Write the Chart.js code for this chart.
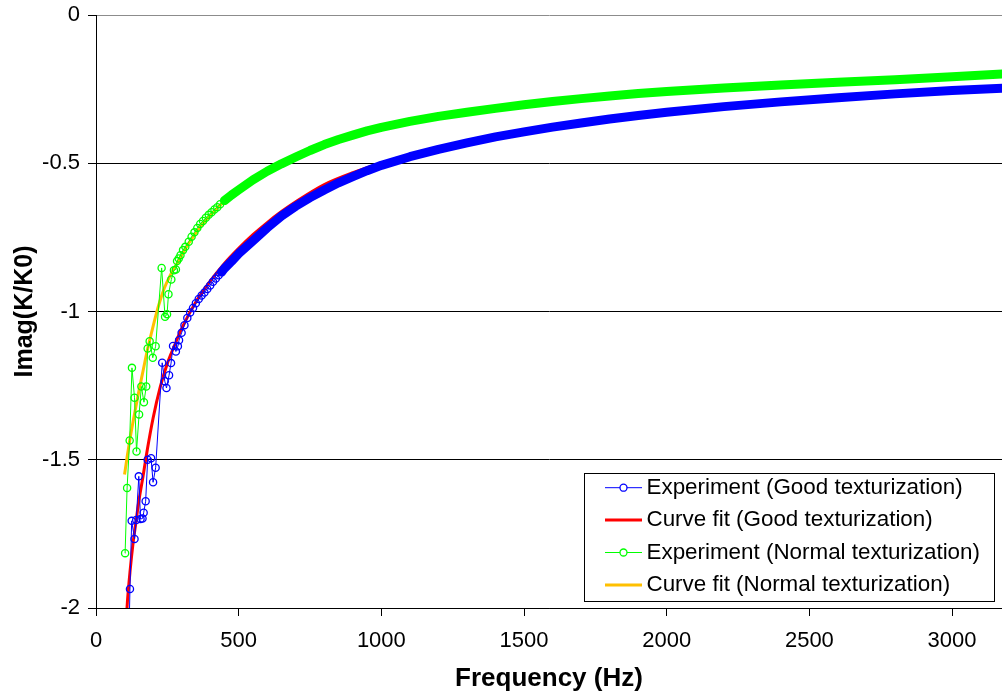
<!DOCTYPE html>
<html>
<head>
<meta charset="utf-8">
<title>Imag(K/K0) vs frequency</title>
<script src="https://cdn.jsdelivr.net/npm/chart.js@4.4.1/dist/chart.umd.min.js"></script>
<style>
  html, body { margin: 0; padding: 0; background: #fff; }
  #wrap { width: 1002px; height: 696px; }
</style>
</head>
<body>
<div id="wrap"><canvas id="imagChart" width="1002" height="696"></canvas></div>
<script>
// measured data, good texturization
const freqGood = [112, 119, 125, 135, 141, 150, 156, 163, 167, 174,
  181, 193, 200, 209, 232, 241, 247, 256, 263, 270,
  280, 287, 291, 300, 310, 320, 330, 340, 350, 360,
  370, 380, 390, 400, 410, 420, 430, 440, 450, 475,
  500, 550, 600, 650, 700, 750, 800, 850, 900, 950,
  1000, 1100, 1200, 1300, 1400, 1500, 1600, 1700, 1800, 1900,
  2000, 2200, 2400, 2600, 2800, 3000, 3200];
const imagGood = [-2.25, -1.936, -1.706, -1.767, -1.703, -1.556, -1.700, -1.698, -1.679, -1.640,
  -1.500, -1.495, -1.576, -1.527, -1.173, -1.235, -1.258, -1.215, -1.174, -1.116,
  -1.135, -1.117, -1.097, -1.072, -1.046, -1.022, -1.003, -0.988, -0.972, -0.958,
  -0.946, -0.936, -0.924, -0.912, -0.900, -0.889, -0.878, -0.867, -0.855, -0.831,
  -0.805, -0.762, -0.718, -0.678, -0.645, -0.616, -0.590, -0.566, -0.545, -0.525,
  -0.507, -0.478, -0.453, -0.431, -0.411, -0.394, -0.378, -0.364, -0.351, -0.339,
  -0.328, -0.309, -0.293, -0.279, -0.266, -0.255, -0.246];

// fitted curve, good texturization
const fitFreqGood = [105, 110, 120, 130, 140, 150, 165, 180, 200, 225,
  250, 275, 300, 350, 400, 450, 500, 550, 600, 650,
  700, 800, 900, 1000, 1200, 1500, 2000, 2500, 3200];
const fitGood = [-2.06, -1.98, -1.87, -1.78, -1.71, -1.64, -1.555, -1.465, -1.36, -1.255,
  -1.175, -1.115, -1.058, -0.968, -0.898, -0.838, -0.787, -0.741, -0.700, -0.663,
  -0.630, -0.572, -0.532, -0.500, -0.451, -0.394, -0.328, -0.287, -0.246];

// measured data, normal texturization
const freqNormal = [102, 109, 118, 126, 135, 142, 151, 159, 168, 176,
  181, 188, 199, 209, 230, 242, 249, 254, 264, 273,
  280, 284, 290, 296, 305, 313, 325, 335, 345, 355,
  365, 375, 385, 395, 405, 415, 425, 435, 450, 475,
  500, 550, 600, 650, 700, 750, 800, 850, 900, 950,
  1000, 1100, 1200, 1300, 1400, 1500, 1600, 1700, 1800, 1900,
  2000, 2200, 2400, 2600, 2800, 3000, 3200];
const imagNormal = [-1.815, -1.595, -1.435, -1.190, -1.291, -1.472, -1.347, -1.253, -1.306, -1.253,
  -1.125, -1.100, -1.156, -1.117, -0.853, -1.018, -1.009, -0.942, -0.892, -0.861,
  -0.858, -0.830, -0.821, -0.810, -0.793, -0.782, -0.765, -0.748, -0.733, -0.718,
  -0.705, -0.695, -0.684, -0.674, -0.665, -0.656, -0.648, -0.638, -0.626, -0.607,
  -0.590, -0.556, -0.527, -0.502, -0.479, -0.457, -0.437, -0.420, -0.405, -0.391,
  -0.379, -0.359, -0.342, -0.328, -0.315, -0.303, -0.292, -0.282, -0.273, -0.265,
  -0.258, -0.246, -0.236, -0.227, -0.218, -0.208, -0.198];

// fitted curve, normal texturization
const fitFreqNormal = [100, 110, 120, 135, 150, 165, 180, 195, 210, 225,
  240, 260, 280, 300, 325, 350, 375, 400, 450, 500,
  600, 700, 800, 1000, 1300, 1800, 2400, 3200];
const fitNormal = [-1.55, -1.485, -1.425, -1.345, -1.27, -1.2, -1.13, -1.07, -1.012, -0.962,
  -0.92, -0.878, -0.845, -0.81, -0.77, -0.735, -0.703, -0.676, -0.628, -0.59,
  -0.527, -0.479, -0.437, -0.379, -0.328, -0.273, -0.236, -0.198];

const yTicks = [0, -0.5, -1, -1.5, -2];
const xTicks = [0, 500, 1000, 1500, 2000, 2500, 3000];

// above this frequency the measured markers merge into a solid band
const bandFrom = 440;

function toPoints(xs, ys) {
    return xs.map((x, i) => ({ x: x, y: ys[i] }));
}

Chart.defaults.font.family = "'Liberation Sans', Arial, sans-serif";
Chart.defaults.color = '#000';

function measuredSet(label, xs, ys, color) {
    return {
        label: label,
        data: toPoints(xs, ys),
        borderColor: color,
        backgroundColor: 'rgba(0,0,0,0)',
        borderWidth: 1,
        borderJoinStyle: 'round',
        borderCapStyle: 'round',
        tension: 0,
        pointRadius: ctx => (ctx.raw && ctx.raw.x > bandFrom ? 0 : 3.6),
        pointBorderWidth: 1.3,
        pointBorderColor: color,
        pointBackgroundColor: 'rgba(0,0,0,0)',
        segment: {
            borderWidth: ctx => (ctx.p0.parsed.x >= bandFrom ? 9 : undefined)
        },
        withMarker: true
    };
}

function fitSet(label, xs, ys, color) {
    return {
        label: label,
        data: toPoints(xs, ys),
        borderColor: color,
        backgroundColor: color,
        borderWidth: 3,
        pointRadius: 0,
        cubicInterpolationMode: 'monotone',
        withMarker: false
    };
}

// drop the label overhang padding so the plot box keeps fixed edges
function noOverhang(scale) {
    scale.paddingTop = 0;
    scale.paddingBottom = 0;
    scale.paddingLeft = 0;
    scale.paddingRight = 0;
}

// legend box sitting inside the plot, lower right
const boxLegend = {
    id: 'boxLegend',
    afterDraw(chart) {
        const ctx = chart.ctx;
        const left = 584.5, top = 473.5, right = 994.5, bottom = 601.5;
        const rowTop = 487.7, rowStep = 32.4;
        ctx.save();
        ctx.fillStyle = '#fff';
        ctx.fillRect(left, top, right - left, bottom - top);
        ctx.strokeStyle = '#000';
        ctx.lineWidth = 1;
        ctx.strokeRect(left, top, right - left, bottom - top);
        ctx.font = "22.4px 'Liberation Sans', Arial, sans-serif";
        ctx.textBaseline = 'middle';
        ctx.textAlign = 'left';
        chart.data.datasets.forEach((ds, i) => {
            const y = rowTop + i * rowStep;
            ctx.strokeStyle = ds.borderColor;
            ctx.lineWidth = ds.withMarker ? 1 : 3;
            ctx.beginPath();
            ctx.moveTo(605, y);
            ctx.lineTo(642, y);
            ctx.stroke();
            if (ds.withMarker) {
                ctx.fillStyle = '#fff';
                ctx.lineWidth = 1.3;
                ctx.beginPath();
                ctx.arc(623.5, y, 3.5, 0, Math.PI * 2);
                ctx.fill();
                ctx.stroke();
            }
            ctx.fillStyle = '#000';
            ctx.fillText(ds.label, 646.5, y);
        });
        ctx.restore();
    }
};

const canvas = document.getElementById('imagChart');
new Chart(canvas.getContext('2d'), {
    type: 'line',
    data: {
        datasets: [
            measuredSet('Experiment (Good texturization)', freqGood, imagGood, '#0000FF'),
            fitSet('Curve fit (Good texturization)', fitFreqGood, fitGood, '#FF0000'),
            measuredSet('Experiment (Normal texturization)', freqNormal, imagNormal, '#00FF00'),
            fitSet('Curve fit (Normal texturization)', fitFreqNormal, fitNormal, '#FFC000')
        ]
    },
    options: {
        responsive: false,
        animation: false,
        layout: { autoPadding: false, padding: { top: 15, right: 0, bottom: 0, left: 0 } },
        plugins: {
            legend: { display: false },
            tooltip: { enabled: false }
        },
        scales: {
            x: {
                type: 'linear',
                min: 0,
                max: 3175,
                afterBuildTicks: scale => { scale.ticks = xTicks.map(v => ({ value: v })); },
                ticks: {
                    color: '#000',
                    font: { size: 22 },
                    padding: 12,
                    maxRotation: 0,
                    callback: v => String(v)
                },
                grid: { drawOnChartArea: false, color: '#000', tickLength: 8 },
                border: { color: '#000' },
                title: {
                    display: true,
                    text: 'Frequency (Hz)',
                    color: '#000',
                    font: { size: 26, weight: 'bold' },
                    padding: { top: 0, bottom: 2 }
                },
                afterFit(scale) {
                    scale.height = 88;
                    noOverhang(scale);
                }
            },
            y: {
                min: -2,
                max: 0,
                afterBuildTicks: scale => { scale.ticks = yTicks.map(v => ({ value: v })); },
                ticks: {
                    color: '#000',
                    font: { size: 22 },
                    padding: 8,
                    callback: v => String(v)
                },
                grid: {
                    color: ctx => (ctx.tick && ctx.tick.value === 0 ? '#8c8c8c' : '#000'),
                    tickColor: '#000',
                    tickLength: 8
                },
                border: { color: '#000' },
                title: {
                    display: true,
                    text: 'Imag(K/K0)',
                    color: '#000',
                    font: { size: 25, weight: 'bold' },
                    padding: { top: 10, bottom: 0 }
                },
                afterFit(scale) {
                    scale.width = 96;
                    noOverhang(scale);
                }
            }
        }
    },
    plugins: [boxLegend]
});
</script>
</body>
</html>
